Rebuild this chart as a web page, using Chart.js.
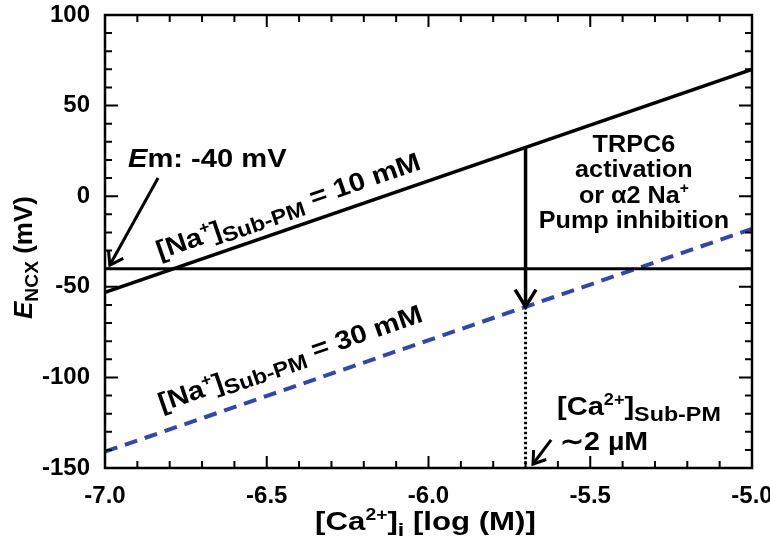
<!DOCTYPE html>
<html>
<head>
<meta charset="utf-8">
<script src="https://cdn.jsdelivr.net/npm/chart.js@4/dist/chart.umd.min.js"></script>
<style>
  html, body { margin: 0; padding: 0; background: #ffffff; }
  #wrap { width: 770px; height: 551px; }
</style>
</head>
<body>
<div id="wrap"><canvas id="c" width="770" height="551"></canvas></div>
<script>
// ---- data: reversal potential of NCX vs. log sub-membrane [Ca2+] ----
const caLog = [-7.0, -5.0];                 // x endpoints, log(M)
const encxNa10 = [-53, 70];                 // [Na+] = 10 mM, mV
const encxNa30 = [-141, -18];               // [Na+] = 30 mM, mV
const emLevel = [-40, -40];                 // membrane potential, mV

// shift from the 10 mM line to the 30 mM line at ~2 uM Ca2+
const shiftCa = [-5.7, -5.7];
const shiftE = [27, -61];
const dropE = [-61, -150];

// callout arrows (x, y in axis units: start -> tip)
const emArrowCa = [-6.836, -6.985];
const emArrowE = [10, -38];
const caArrowCa = [-5.621, -5.677];
const caArrowE = [-134.5, -147.8];

// axis ticks
const xTickValues = [-7.0, -6.5, -6.0, -5.5, -5.0];
const xTickLabels = ['-7.0', '-6.5', '-6.0', '-5.5', '-5.0'];
const yTickValues = [100, 50, 0, -50, -100, -150];
const yTickLabels = ['100', '50', '0', '-50', '-100', '-150'];

const FONT = '"Liberation Sans", Arial, Helvetica, sans-serif';
const BLUE = '#2f46b3';

function pts(xs, ys) { return xs.map((x, i) => ({ x: x, y: ys[i] })); }
function font(size, italic) { return (italic ? 'italic ' : '') + 'bold ' + size + 'px ' + FONT; }

// rich text: runs of {t, sup, sub, it}
function layoutRuns(ctx, runs, size, subScale) {
  let w = 0; const items = [];
  for (const r of runs) {
    let s = size, dy = 0;
    if (r.sup) { s = size * 0.62; dy = -size * 0.38; }
    if (r.sub) { s = size * (subScale || 0.74); dy = size * 0.22; }
    ctx.font = font(s, r.it);
    items.push({ t: r.t, f: ctx.font, x: w, dy: dy });
    w += ctx.measureText(r.t).width;
  }
  return { items: items, width: w };
}
// draws runs with baseline at y; sx widens the text horizontally
function drawRuns(ctx, runs, size, x, y, align, sx, subScale) {
  sx = sx || 1;
  const L = layoutRuns(ctx, runs, size, subScale);
  const w = L.width * sx;
  const x0 = align === 'center' ? x - w / 2 : (align === 'right' ? x - w : x);
  ctx.save();
  ctx.translate(x0, y);
  ctx.scale(sx, 1);
  ctx.textAlign = 'left';
  ctx.textBaseline = 'alphabetic';
  for (const it of L.items) { ctx.font = it.f; ctx.fillText(it.t, it.x, it.dy); }
  ctx.restore();
}
function chevron(ctx, sx, sy, tx, ty, len, ang, lw) {
  const a = Math.atan2(ty - sy, tx - sx);
  ctx.save();
  ctx.strokeStyle = '#000';
  ctx.lineWidth = lw;
  ctx.lineJoin = 'miter';
  ctx.lineCap = 'butt';
  ctx.setLineDash([]);
  ctx.beginPath();
  ctx.moveTo(tx - len * Math.cos(a - ang), ty - len * Math.sin(a - ang));
  ctx.lineTo(tx, ty);
  ctx.lineTo(tx - len * Math.cos(a + ang), ty - len * Math.sin(a + ang));
  ctx.stroke();
  ctx.restore();
}

const decor = {
  id: 'decor',
  afterDatasetsDraw(chart) {
    const ctx = chart.ctx, xs = chart.scales.x, ys = chart.scales.y, ca = chart.chartArea;
    const X = v => xs.getPixelForValue(v), Y = v => ys.getPixelForValue(v);

    // frame
    ctx.save();
    ctx.strokeStyle = '#000';
    ctx.lineWidth = 2.5;
    ctx.strokeRect(ca.left, ca.top, ca.right - ca.left, ca.bottom - ca.top);

    // inward ticks on all four sides
    ctx.lineWidth = 2;
    ctx.beginPath();
    for (let i = 0; i <= 20; i++) {
      const v = -7 + i * 0.1, px = X(v);
      const len = (i % 5 === 0) ? 12 : 7;
      ctx.moveTo(px, ca.bottom); ctx.lineTo(px, ca.bottom - len);
      ctx.moveTo(px, ca.top); ctx.lineTo(px, ca.top + len);
    }
    for (let i = 0; i <= 25; i++) {
      const v = -150 + i * 10, py = Y(v);
      const len = (i % 5 === 0) ? 13 : 7;
      ctx.moveTo(ca.left, py); ctx.lineTo(ca.left + len, py);
      ctx.moveTo(ca.right, py); ctx.lineTo(ca.right - len, py);
    }
    ctx.stroke();

    // arrowheads
    chevron(ctx, X(shiftCa[0]), Y(shiftE[0]), X(shiftCa[1]), Y(shiftE[1]), 20, 0.55, 3.5);
    chevron(ctx, X(emArrowCa[0]), Y(emArrowE[0]), X(emArrowCa[1]), Y(emArrowE[1]), 15, 0.6, 3);
    chevron(ctx, X(caArrowCa[0]), Y(caArrowE[0]), X(caArrowCa[1]), Y(caArrowE[1]), 14, 0.6, 3);

    ctx.fillStyle = '#000';

    // line labels rotated along the lines
    const ang = Math.atan2(Y(encxNa10[1]) - Y(encxNa10[0]), X(caLog[1]) - X(caLog[0]));
    const lbl = (cx, cy, txt) => {
      ctx.save();
      ctx.translate(X(cx), Y(cy));
      ctx.rotate(ang);
      drawRuns(ctx, [{ t: '[Na' }, { t: '+', sup: 1 }, { t: ']' }, { t: 'Sub-PM', sub: 1 }, { t: ' = ' + txt }], 26, 0, 9, 'center', 1.12, 0.8);
      ctx.restore();
    };
    lbl(-6.434, -5.1, '10 mM');
    lbl(-6.428, -89.2, '30 mM');

    // Em callout
    drawRuns(ctx, [{ t: 'E', it: 1 }, { t: 'm: -40 mV' }], 26, X(-6.929), Y(16.1), 'left', 1.12);

    // shift explanation
    const cx = X(-5.365); let by = Y(24.4);
    drawRuns(ctx, [{ t: 'TRPC6' }], 24, cx, by, 'center', 1.05); by += 25.3;
    drawRuns(ctx, [{ t: 'activation' }], 24, cx, by, 'center', 1.05); by += 25.3;
    drawRuns(ctx, [{ t: 'or \u03b12 Na' }, { t: '+', sup: 1 }], 24, cx, by, 'center', 1.05); by += 25.3;
    drawRuns(ctx, [{ t: 'Pump inhibition' }], 24, cx, by, 'center', 1.05);

    // sub-membrane Ca2+ callout
    drawRuns(ctx, [{ t: '[Ca' }, { t: '2+', sup: 1 }, { t: ']' }, { t: 'Sub-PM', sub: 1 }], 26, X(-5.603), Y(-120.8), 'left', 1.12, 0.8);
    drawRuns(ctx, [{ t: '\u223c2 \u00b5M' }], 26, X(-5.594), Y(-140.1), 'left', 1.1);

    // axis titles
    ctx.save();
    ctx.translate(32, (ca.top + ca.bottom) / 2 + 16);
    ctx.rotate(-Math.PI / 2);
    drawRuns(ctx, [{ t: 'E', it: 1 }, { t: 'NCX', sub: 1 }, { t: ' (mV)' }], 26, 0, 0, 'center');
    ctx.restore();
    drawRuns(ctx, [{ t: '[Ca' }, { t: '2+', sup: 1 }, { t: ']' }, { t: 'i', sub: 1 }, { t: ' [log (M)]' }], 26, (ca.left + ca.right) / 2 - 3, 530, 'center', 1.2);

    ctx.restore();
  }
};

new Chart(document.getElementById('c'), {
  type: 'scatter',
  data: {
    datasets: [
      { data: pts(caLog, encxNa10), showLine: true, borderColor: '#000', borderWidth: 3.5 },
      { data: pts(caLog, emLevel), showLine: true, borderColor: '#000', borderWidth: 3 },
      { data: pts(caLog, encxNa30), showLine: true, borderColor: BLUE, borderWidth: 4, borderDash: [13, 8] },
      { data: pts(shiftCa, shiftE), showLine: true, borderColor: '#000', borderWidth: 3.5 },
      { data: pts(shiftCa, dropE), showLine: true, borderColor: '#000', borderWidth: 3, borderDash: [2.5, 2.5] },
      { data: pts(emArrowCa, emArrowE), showLine: true, borderColor: '#000', borderWidth: 3 },
      { data: pts(caArrowCa, caArrowE), showLine: true, borderColor: '#000', borderWidth: 3 }
    ]
  },
  options: {
    responsive: false,
    animation: false,
    layout: { padding: { top: 15, right: 18, left: 0, bottom: 0 } },
    elements: { point: { radius: 0, hoverRadius: 0 }, line: { tension: 0 } },
    plugins: { legend: { display: false }, tooltip: { enabled: false } },
    scales: {
      x: {
        type: 'linear', min: -7, max: -5,
        grid: { display: false, drawTicks: false }, border: { display: false },
        afterBuildTicks: s => { s.ticks = xTickValues.map(v => ({ value: v })); },
        afterFit: s => { s.height = 83; s.paddingLeft = 0; s.paddingRight = 0; },
        ticks: {
          autoSkip: false, maxRotation: 0, padding: 14, color: '#000',
          font: { family: FONT, size: 24, weight: 'bold' },
          callback: (v, i) => xTickLabels[i]
        }
      },
      y: {
        type: 'linear', min: -150, max: 100,
        grid: { display: false, drawTicks: false }, border: { display: false },
        afterBuildTicks: s => { s.ticks = yTickValues.map(v => ({ value: v })); },
        afterFit: s => { s.width = 105; s.paddingTop = 0; s.paddingBottom = 0; },
        ticks: {
          autoSkip: false, padding: 15, color: '#000',
          font: { family: FONT, size: 24, weight: 'bold' },
          callback: (v, i) => yTickLabels[i]
        }
      }
    }
  },
  plugins: [decor]
});
</script>
</body>
</html>
